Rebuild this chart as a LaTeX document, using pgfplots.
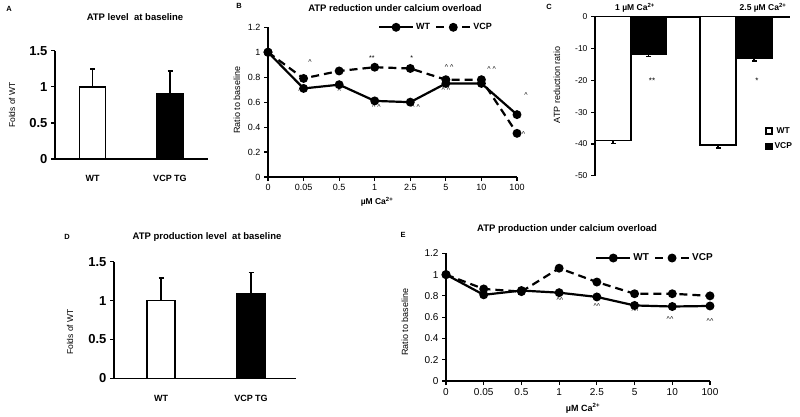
\documentclass[border=0pt]{standalone}
\usepackage{pgfplots}
\pgfplotsset{compat=1.18}
\usepackage{fontspec}
\setmainfont{Liberation Sans}

\newcommand{\fs}[1]{\fontsize{#1}{#1}\selectfont}
\newcommand{\ca}{µM Ca\textsuperscript{2+}}
\newcommand{\crt}{\textasciicircum}

\pgfplotsset{
  base/.style={
    scale only axis, anchor=south west, clip=false,
    axis x line*=bottom, axis y line*=left,
    axis line style={-, line width=1.6pt},
    tick align=outside, major tick length=4pt,
    every tick/.style={black, line width=1.2pt},
    /pgf/number format/assume math mode=true,
  },
  barpanel/.style={
    base, ybar, bar shift=0pt,
    x tick style={draw=none},
    yticklabel style={font=\fs{13}\bfseries},
    xticklabel style={font=\fs{9}\bfseries, yshift=-9pt},
  },
  errup/.style={
    error bars/.cd, y dir=plus, y explicit,
    error bar style={line width=1.6pt, black},
    error mark options={rotate=90, line width=1.6pt, mark size=2.5pt, black},
  },
  linepanel/.style={
    base, xmin=0, xmax=7, ymin=0, ymax=1.2,
    xtick={0,...,7}, xticklabels={0,0.05,0.5,1,2.5,5,10,100},
    ytick={0,0.2,0.4,0.6,0.8,1,1.2},
    yticklabels={0,0.2,0.4,0.6,0.8,1,1.2},
    legend columns=2,
    legend style={draw=none, fill=none, font=\fs{9}\bfseries,
      /tikz/every even column/.append style={column sep=3pt}},
  },
  wt/.style={black, line width=2.2pt, mark=*, mark size=3.3pt, mark options={solid}},
  vcp/.style={black, line width=2.2pt, dash pattern=on 8pt off 5pt, mark=*, mark size=3.3pt, mark options={solid}},
  linelegend/.style={legend image code/.code={
    \draw[##1, mark repeat=2, mark phase=2] plot coordinates {(0pt,0pt) (17pt,0pt) (34pt,0pt)};}},
  sqlegend/.style={legend image code/.code={
    \draw[line width=1.4pt, ##1] (0pt,-3pt) rectangle (6pt,3pt);}},
}

\begin{document}
\begin{tikzpicture}[x=1pt, y=1pt]
\useasboundingbox (0,0) rectangle (800,416);

% ---------- A ----------
\begin{axis}[barpanel, at={(55pt,257pt)}, width=153pt, height=108.3pt,
  xmin=0, xmax=153, ymin=0, ymax=1.5, bar width=26pt,
  ytick={0,0.5,1,1.5}, yticklabels={0,0.5,1,1.5},
  xtick={37.5,115}, xticklabels={WT,VCP TG}]
\addplot[draw=black, line width=1.6pt, fill=white, errup] coordinates {(37.5,1.00) +- (0,0.25)};
\addplot[draw=black, line width=1.6pt, fill=black, errup] coordinates {(115,0.90) +- (0,0.32)};
\end{axis}

% ---------- B ----------
\begin{axis}[linepanel, at={(268pt,239pt)}, width=249pt, height=149.7pt,
  tick label style={font=\fs{9}},
  legend style={at={(0.92,1.0)}, anchor=east}]
\addplot[wt, linelegend] coordinates {(0,1.00) (1,0.71) (2,0.74) (3,0.61) (4,0.60) (5,0.75) (6,0.75) (7,0.50)};
\addplot[vcp, linelegend] coordinates {(0,1.00) (1,0.79) (2,0.85) (3,0.88) (4,0.87) (5,0.78) (6,0.78) (7,0.35)};
\legend{WT, VCP}
\begin{scope}[every node/.style={font=\fs{7}}]
\node at (axis cs:1.18,0.92) {\crt};
\node at (axis cs:0.97,0.69) {\crt\ \crt};
\node at (axis cs:2.00,0.69) {\crt};
\node at (axis cs:2.92,0.95) {**};
\node at (axis cs:3.05,0.56) {\crt\ \crt};
\node at (axis cs:4.04,0.95) {*};
\node at (axis cs:4.15,0.56) {\crt\ \crt};
\node at (axis cs:5.09,0.88) {\crt\ \crt};
\node at (axis cs:5.00,0.70) {\crt\ \crt};
\node at (axis cs:6.29,0.865) {\crt\ \crt};
\node at (axis cs:5.99,0.73) {\crt};
\node at (axis cs:7.25,0.66) {\crt};
\node at (axis cs:7.18,0.34) {\crt};
\end{scope}
\end{axis}

% ---------- C ----------
\begin{axis}[base, at={(595pt,240.3pt)}, width=195pt, height=159pt,
  axis x line*=top, xmin=0, xmax=195, ymin=-50, ymax=0,
  ybar, bar shift=0pt, bar width=36pt,
  xtick=\empty, ytick={-50,-40,...,0}, yticklabels={-50,-40,-30,-20,-10,0},
  tick label style={font=\fs{8.5}},
  legend style={at={(0.856,0.33)}, anchor=north west, draw=none, fill=none,
    font=\fs{8.5}\bfseries, row sep=4pt}]
\addplot[draw=black, line width=1.4pt, fill=white, sqlegend,
  error bars/.cd, y dir=minus, y explicit, error bar style={line width=1.2pt},
  error mark options={rotate=90, line width=1.2pt, mark size=2.5pt}]
  coordinates {(18,-39.0) -= (0,0.9) (123,-40.4) -= (0,0.9)};
\addplot[draw=black, line width=1.4pt, fill=black, sqlegend,
  error bars/.cd, y dir=minus, y explicit, error bar style={line width=1.2pt},
  error mark options={rotate=90, line width=1.2pt, mark size=2.5pt}]
  coordinates {(53.5,-11.7) -= (0,0.8) (159,-13.1) -= (0,0.8)};
\legend{WT, VCP}
\node[font=\fs{8}] at (axis cs:57,-20) {**};
\node[font=\fs{8}] at (axis cs:162,-20) {*};
\end{axis}

% ---------- D ----------
\begin{axis}[barpanel, at={(114pt,37.7pt)}, width=182pt, height=116.6pt,
  xmin=0, xmax=182, ymin=0, ymax=1.5, bar width=28pt,
  ytick={0,0.5,1,1.5}, yticklabels={0,0.5,1,1.5},
  xtick={47,137}, xticklabels={WT,VCP TG}]
\addplot[draw=black, line width=1.6pt, fill=white, errup] coordinates {(47,1.00) +- (0,0.29)};
\addplot[draw=black, line width=1.6pt, fill=black, errup] coordinates {(137,1.09) +- (0,0.27)};
\end{axis}

% ---------- E ----------
\begin{axis}[linepanel, at={(446pt,35pt)}, width=264pt, height=127.7pt,
  tick label style={font=\fs{10}},
  legend style={at={(1.03,0.963)}, anchor=east, font=\fs{10}\bfseries}]
\addplot[wt, linelegend] coordinates {(0,1.00) (1,0.81) (2,0.85) (3,0.83) (4,0.79) (5,0.71) (6,0.70) (7,0.705)};
\addplot[vcp, linelegend] coordinates {(0,1.00) (1,0.865) (2,0.84) (3,1.06) (4,0.93) (5,0.82) (6,0.82) (7,0.80)};
\legend{WT, VCP}
\begin{scope}[every node/.style={font=\fs{7}}]
\node at (axis cs:3.02,0.76) {\crt\crt};
\node at (axis cs:4.00,0.70) {\crt\crt};
\node at (axis cs:5.01,0.66) {\crt\crt};
\node at (axis cs:5.94,0.58) {\crt\crt};
\node at (axis cs:7.00,0.56) {\crt\crt};
\end{scope}
\end{axis}

% ---------- panel letters, titles, axis labels ----------
\begin{scope}[every node/.style={inner sep=0pt}]
\node[font=\fs{7.5}\bfseries] at (9,407) {A};
\node[font=\fs{9.5}\bfseries] at (135,399) {ATP level\ \ at baseline};
\node[font=\fs{8.5}, rotate=90] at (12,311) {Folds of WT};

\node[font=\fs{7.5}\bfseries] at (239,410) {B};
\node[font=\fs{9.5}\bfseries] at (395,408) {ATP reduction under calcium overload};
\node[font=\fs{9}, rotate=90] at (237,316) {Ratio to baseline};
\node[font=\fs{8.5}\bfseries] at (377,214) {\ca};

\node[font=\fs{7.5}\bfseries] at (549,409) {C};
\node[font=\fs{8.5}\bfseries] at (635,408) {1 \ca};
\node[font=\fs{8.5}\bfseries] at (763,408) {2.5 \ca};
\node[font=\fs{9}, rotate=90] at (557,331) {ATP reduction ratio};

\node[font=\fs{7.5}\bfseries] at (67,179) {D};
\node[font=\fs{9.5}\bfseries] at (207,179) {ATP production level\ \ at baseline};
\node[font=\fs{8.5}, rotate=90] at (70,84) {Folds of WT};

\node[font=\fs{7.5}\bfseries] at (403,181) {E};
\node[font=\fs{9.5}\bfseries] at (567,187) {ATP production under calcium overload};
\node[font=\fs{9}, rotate=90] at (405,94) {Ratio to baseline};
\node[font=\fs{9}\bfseries] at (583,8) {\ca};
\end{scope}
\end{tikzpicture}
\end{document}
